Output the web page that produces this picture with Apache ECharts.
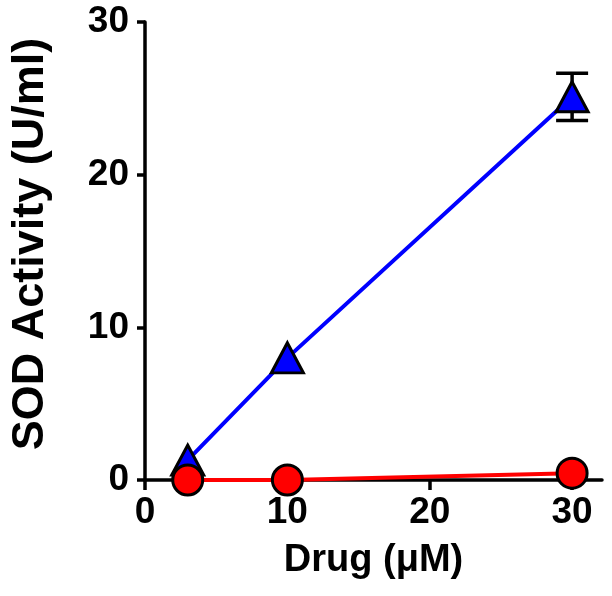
<!DOCTYPE html>
<html>
<head>
<meta charset="utf-8">
<script src="https://cdn.jsdelivr.net/npm/echarts@6/dist/echarts.min.js"></script>
<style>
  html, body { margin: 0; padding: 0; background: #fff; }
  #chart { width: 612px; height: 596px; }
</style>
</head>
<body>
<div id="chart"></div>
<script>
// drug doses (uM)
var doses = [3, 10, 30];
// SOD activity, blue triangles (mean and SD)
var blueMean = [1.3, 8.0, 25.1];
var blueSD = [0.3, 0.5, 1.55];
// SOD activity, red circles
var redMean = [0.0, 0.0, 0.45];
var xTicks = [0, 10, 20, 30];

var font = 'Arial, "Liberation Sans", Helvetica, sans-serif';
var symH = 30;

var chart = echarts.init(document.getElementById("chart"));

var bluePts = doses.map(function (d, i) { return [d, blueMean[i]]; });
var redPts = doses.map(function (d, i) { return [d, redMean[i]]; });
var blueBars = doses.map(function (d, i) {
  return [d, blueMean[i] - blueSD[i], blueMean[i] + blueSD[i]];
});

var option = {
  backgroundColor: "#fff",
  animation: false,
  grid: { left: 144, right: 10, top: 22, bottom: 116 },
  xAxis: {
    type: "value",
    min: 0,
    max: 32.1,
    name: "Drug (\u03bcM)",
    nameLocation: "middle",
    nameGap: 62,
    nameTextStyle: { fontFamily: font, fontWeight: "bold", fontSize: 38, color: "#000" },
    splitLine: { show: false },
    axisLine: { lineStyle: { color: "#000", width: 3.5 } },
    axisTick: { customValues: xTicks, length: 10, lineStyle: { color: "#000", width: 3.5 } },
    axisLabel: {
      customValues: xTicks,
      margin: 14,
      fontFamily: font,
      fontWeight: "bold",
      fontSize: 37,
      color: "#000"
    }
  },
  yAxis: {
    type: "value",
    min: 0,
    max: 30,
    interval: 10,
    name: "SOD Activity (U/ml)",
    nameLocation: "middle",
    nameGap: 92,
    nameTextStyle: {
      fontFamily: font, fontWeight: "bold", fontSize: 45, color: "#000",
      padding: [0, 0, 0, 14]
    },
    splitLine: { show: false },
    axisLine: { lineStyle: { color: "#000", width: 3.5 } },
    axisTick: { length: 8, lineStyle: { color: "#000", width: 3.5 } },
    axisLabel: {
      margin: 16,
      fontFamily: font,
      fontWeight: "bold",
      fontSize: 37,
      color: "#000"
    }
  },
  series: [
    {
      // SD error bars, skipped when they fit inside the symbol
      type: "custom",
      z: 2,
      data: blueBars,
      renderItem: function (params, api) {
        var lo = api.coord([api.value(0), api.value(1)]);
        var hi = api.coord([api.value(0), api.value(2)]);
        if (lo[1] - hi[1] < symH) return null;
        var w = 16;
        var st = { stroke: "#000", lineWidth: 3.5 };
        return {
          type: "group",
          children: [
            { type: "line", shape: { x1: lo[0], y1: lo[1], x2: hi[0], y2: hi[1] }, style: st },
            { type: "line", shape: { x1: lo[0] - w, y1: lo[1], x2: lo[0] + w, y2: lo[1] }, style: st },
            { type: "line", shape: { x1: hi[0] - w, y1: hi[1], x2: hi[0] + w, y2: hi[1] }, style: st }
          ]
        };
      }
    },
    {
      type: "line",
      z: 3,
      data: bluePts,
      symbol: "triangle",
      symbolSize: [32, symH],
      lineStyle: { color: "#0000ff", width: 4 },
      itemStyle: { color: "#0000ff", borderColor: "#000", borderWidth: 3 }
    },
    {
      type: "line",
      z: 4,
      data: redPts,
      symbol: "circle",
      symbolSize: 30,
      lineStyle: { color: "#ff0000", width: 4 },
      itemStyle: { color: "#ff0000", borderColor: "#000", borderWidth: 3 }
    }
  ]
};

chart.setOption(option);
</script>
</body>
</html>
